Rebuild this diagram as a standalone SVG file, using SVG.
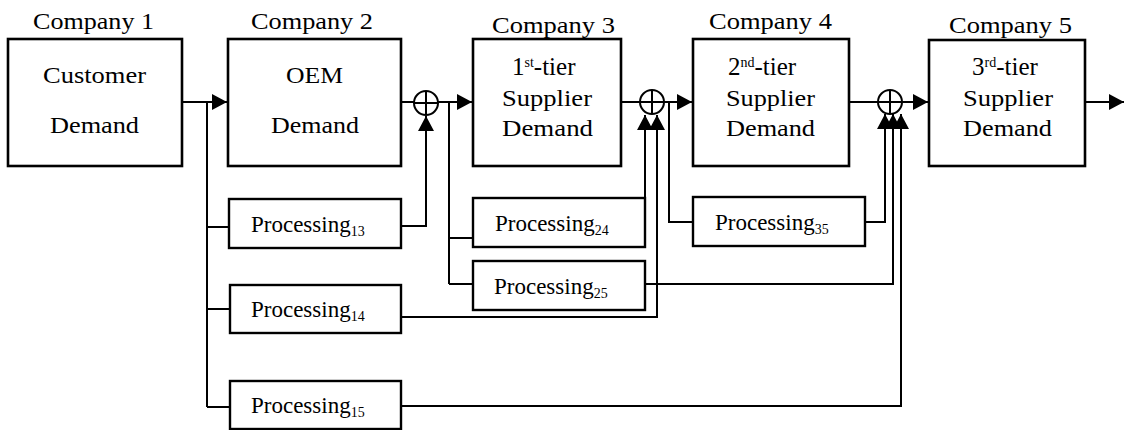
<svg xmlns="http://www.w3.org/2000/svg" width="1124" height="430" viewBox="0 0 1124 430">
<style>
.box{fill:#fff;stroke:#000;stroke-width:2.6}
.pbox{fill:#fff;stroke:#000;stroke-width:2.4}
.ln{fill:none;stroke:#000;stroke-width:2}
.sum{fill:#fff;stroke:#000;stroke-width:2}
.sub{font-size:14px}
.sup{font-size:14px}
</style>
<defs>
<marker id="ah" viewBox="0 0 15 16" markerWidth="15" markerHeight="16" markerUnits="userSpaceOnUse" refX="15" refY="8" orient="auto">
<path d="M0,0 L15,8 L0,16 Z" fill="#000"/>
</marker>
</defs>
<rect width="1124" height="430" fill="#fff"/>

<g id="connectors">
<path class="ln" d="M182,102 H227" marker-end="url(#ah)"/>
<path class="ln" d="M207,102 V407"/>
<path class="ln" d="M207,227 H229"/>
<path class="ln" d="M207,309 H230"/>
<path class="ln" d="M207,407 H230"/>
<path class="ln" d="M401,102 H414"/>
<path class="ln" d="M438,102 H472" marker-end="url(#ah)"/>
<path class="ln" d="M401,226 H426 V116" marker-end="url(#ah)"/>
<path class="ln" d="M449,102 V284"/>
<path class="ln" d="M449,238 H473"/>
<path class="ln" d="M449,284 H473"/>
<path class="ln" d="M621,102 H640"/>
<path class="ln" d="M664,102 H692" marker-end="url(#ah)"/>
<path class="ln" d="M645,199 V115" marker-end="url(#ah)"/>
<path class="ln" d="M401,317 H657 V115" marker-end="url(#ah)"/>
<path class="ln" d="M669,102 V222 H693"/>
<path class="ln" d="M849,102 H878"/>
<path class="ln" d="M902,102 H928" marker-end="url(#ah)"/>
<path class="ln" d="M865,222 H885 V114" marker-end="url(#ah)"/>
<path class="ln" d="M645,284 H893 V114" marker-end="url(#ah)"/>
<path class="ln" d="M401,406 H901 V114" marker-end="url(#ah)"/>
<path class="ln" d="M1085,102 H1124" marker-end="url(#ah)"/>
</g>

<g id="sum1">
<circle class="sum" cx="426" cy="103" r="12"/>
<path class="ln" d="M414,103 H438 M426,91 V115"/>
</g>
<g id="sum2">
<circle class="sum" cx="652" cy="102" r="12"/>
<path class="ln" d="M640,102 H664 M652,90 V114"/>
</g>
<g id="sum3">
<circle class="sum" cx="890" cy="102" r="12"/>
<path class="ln" d="M878,102 H902 M890,90 V114"/>
</g>

<g font-family="Liberation Serif, DejaVu Serif, serif" font-size="23" fill="#000">
<g id="company1">
<text x="33" y="29" textLength="121" lengthAdjust="spacingAndGlyphs">Company 1</text>
<rect class="box" x="8" y="39" width="174" height="127"/>
<text x="43" y="83" textLength="103" lengthAdjust="spacingAndGlyphs">Customer</text>
<text x="50" y="133" textLength="89" lengthAdjust="spacingAndGlyphs">Demand</text>
</g>
<g id="company2">
<text x="251" y="29" textLength="122" lengthAdjust="spacingAndGlyphs">Company 2</text>
<rect class="box" x="228" y="39" width="173" height="127"/>
<text x="286" y="83" textLength="57" lengthAdjust="spacingAndGlyphs">OEM</text>
<text x="271" y="133" textLength="88" lengthAdjust="spacingAndGlyphs">Demand</text>
</g>
<g id="company3">
<text x="492" y="33" textLength="123" lengthAdjust="spacingAndGlyphs">Company 3</text>
<rect class="box" x="473" y="39" width="148" height="127"/>
<text x="512" y="75" font-size="25">1<tspan class="sup" dy="-8">st</tspan><tspan dy="8">-tier</tspan></text>
<text x="502" y="106" textLength="90" lengthAdjust="spacingAndGlyphs">Supplier</text>
<text x="502" y="136" textLength="91" lengthAdjust="spacingAndGlyphs">Demand</text>
</g>
<g id="company4">
<text x="709" y="29" textLength="123" lengthAdjust="spacingAndGlyphs">Company 4</text>
<rect class="box" x="693" y="39" width="156" height="127"/>
<text x="728" y="75" font-size="25">2<tspan class="sup" dy="-8">nd</tspan><tspan dy="8">-tier</tspan></text>
<text x="726" y="106" textLength="89" lengthAdjust="spacingAndGlyphs">Supplier</text>
<text x="726" y="136" textLength="89" lengthAdjust="spacingAndGlyphs">Demand</text>
</g>
<g id="company5">
<text x="949" y="33" textLength="123" lengthAdjust="spacingAndGlyphs">Company 5</text>
<rect class="box" x="929" y="40" width="156" height="126"/>
<text x="972" y="75" font-size="25">3<tspan class="sup" dy="-8">rd</tspan><tspan dy="8">-tier</tspan></text>
<text x="963" y="106" textLength="90" lengthAdjust="spacingAndGlyphs">Supplier</text>
<text x="963" y="136" textLength="89" lengthAdjust="spacingAndGlyphs">Demand</text>
</g>

<g id="p13">
<rect class="pbox" x="229" y="199" width="172" height="49"/>
<text x="251" y="232">Processing<tspan class="sub" dy="4">13</tspan></text>
</g>
<g id="p14">
<rect class="pbox" x="230" y="285" width="171" height="48"/>
<text x="251" y="317">Processing<tspan class="sub" dy="4">14</tspan></text>
</g>
<g id="p15">
<rect class="pbox" x="230" y="381" width="171" height="48"/>
<text x="251" y="413">Processing<tspan class="sub" dy="4">15</tspan></text>
</g>
<g id="p24">
<rect class="pbox" x="473" y="198" width="172" height="49"/>
<text x="495" y="231">Processing<tspan class="sub" dy="4">24</tspan></text>
</g>
<g id="p25">
<rect class="pbox" x="473" y="261" width="172" height="49"/>
<text x="494" y="294">Processing<tspan class="sub" dy="4">25</tspan></text>
</g>
<g id="p35">
<rect class="pbox" x="693" y="197" width="172" height="49"/>
<text x="715" y="230">Processing<tspan class="sub" dy="4">35</tspan></text>
</g>
</g>
</svg>
